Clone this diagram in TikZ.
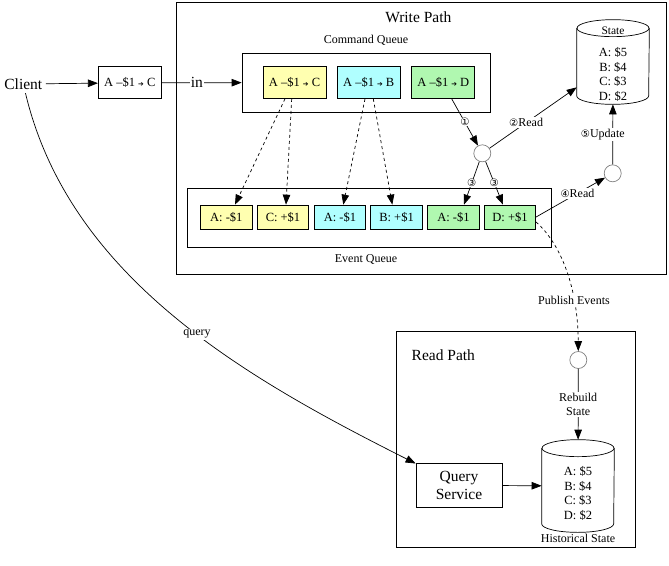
\documentclass[tikz,border=0pt]{standalone}
\usepackage{fontspec}
\setmainfont{Liberation Serif}
\newfontfamily\numfont[Scale=0.85]{DejaVu Sans}
\usetikzlibrary{arrows.meta}
\definecolor{ylwfill}{RGB}{255,255,176}
\definecolor{cynfill}{RGB}{176,255,255}
\definecolor{grnfill}{RGB}{176,248,176}
\newcommand{\smallarr}{{\numfont\fontsize{8}{8}\selectfont ➔}}

\begin{document}
\begin{tikzpicture}[x=1pt, y=-1pt, line width=0.7pt,
    arr/.style={-{Triangle[length=10pt,width=7.5pt]}},
    darr/.style={arr, dashed},
    txt/.style={font=\fontsize{12}{13}\selectfont},
    big/.style={font=\fontsize{15.5}{18}\selectfont},
    lbl/.style={txt, fill=white, inner sep=1pt},
    num/.style={fill=white, inner sep=0pt, font=\fontsize{12}{12}\numfont},
    cmdbox/.style={draw, minimum width=63, minimum height=32, font=\fontsize{12.5}{14}\selectfont},
    evbox/.style={draw, minimum width=51.5, minimum height=24, font=\fontsize{12.5}{14}\selectfont},
    dot/.style={circle, draw=gray, minimum size=17, inner sep=0pt},
    store/.style={align=center, font=\fontsize{12.5}{14.5}\selectfont}]
    \useasboundingbox (0,0) rectangle (669,565);

    % Write Path cluster
    \node[draw, minimum width=490, minimum height=271.3] (write) at (421.7,138.3) {};
    \node[big] (writelbl) at (418.3,17) {Write Path};

    % Command Queue
    \node[draw, minimum width=248, minimum height=59] (cmdq) at (366,82.5) {};
    \node[txt] (cmdqlbl) at (366,40) {Command Queue};
    \foreach \n/\x/\c/\t in {ca/294.5/ylwfill/C, cb/368.7/cynfill/B, cc/443.3/grnfill/D}
        \node[cmdbox, fill=\c] (\n) at (\x,82.5) {A –\$1 \smallarr{} \t};

    % Event Queue
    \node[draw, minimum width=364, minimum height=59] (evq) at (369,217.5) {};
    \node[txt] (evqlbl) at (366,259) {Event Queue};
    \foreach \n/\x/\c/\t in {e1/226.3/ylwfill/A: -\$1, e2/283/ylwfill/C: +\$1, e3/340/cynfill/A: -\$1,
        e4/396.5/cynfill/B: +\$1, e5/453.5/grnfill/A: -\$1, e6/510/grnfill/D: +\$1}
        \node[evbox, fill=\c] (\n) at (\x,217) {\t};

    % State store (cylinder)
    \node[minimum width=72, minimum height=84, inner sep=0pt] (state) at (613,62) {};
    \draw ([yshift=-8.5pt]state.north west) -- ([yshift=8.5pt]state.south west)
        arc[start angle=180, end angle=360, x radius=36pt, y radius=8.5pt] -- ([yshift=-8.5pt]state.north east);
    \draw ([yshift=-8.5pt]state.north) ellipse [x radius=36pt, y radius=8.5pt];
    \node[txt, font=\fontsize{11.5}{13}\selectfont] (statelbl) at (613,31) {State};
    \node[store] (statetxt) at (613,74.5) {A:~\$5\\B:~\$4\\C:~\$3\\D:~\$2};

    \node[dot] (mrg) at (482.3,153.3) {};
    \node[dot] (upd) at (612.7,173.3) {};

    % Read Path cluster
    \node[draw, minimum width=239.7, minimum height=216.7] (read) at (515.9,439.4) {};
    \node[big] (readlbl) at (443.3,355) {Read Path};
    \node[dot] (rdc) at (578.3,360) {};
    \node[minimum width=72, minimum height=92, inner sep=0pt] (hist) at (578,486) {};
    \draw ([yshift=-8.5pt]hist.north west) -- ([yshift=8.5pt]hist.south west)
        arc[start angle=180, end angle=360, x radius=36pt, y radius=8.5pt] -- ([yshift=-8.5pt]hist.north east);
    \draw ([yshift=-8.5pt]hist.north) ellipse [x radius=36pt, y radius=8.5pt];
    \node[store] (histtxt) at (578,493.5) {A:~\$5\\B:~\$4\\C:~\$3\\D:~\$2};
    \node[txt] (histlbl) at (578,538.5) {Historical State};
    \node[draw, minimum width=86, minimum height=44, big, align=center] (qsvc) at (459,485.3) {Query\\Service};

    % Client side
    \node[big] (client) at (23.3,84) {Client};
    \node[cmdbox] (incmd) at (129.8,82.8) {A –\$1 \smallarr{} C};

    % write path edges
    \draw[arr] (client) -- (incmd);
    \draw[arr] (incmd) -- node[lbl, big, pos=0.44] {in} (cmdq);
    \draw[darr] ([xshift=-9.5]ca.south) -- ([xshift=8.7]e1.north);
    \draw[darr] ([xshift=-2.8]ca.south) -- ([xshift=3]e2.north);
    \draw[darr] ([xshift=-3.7]cb.south) -- ([xshift=3.3]e3.north);
    \draw[darr] ([xshift=4.6]cb.south) -- ([xshift=-4.2]e4.north);
    \draw[arr] ([xshift=8.4]cc.south) -- node[num] {①} (mrg);
    \draw[arr] (mrg) -- node[lbl, pos=0.42] {{\numfont ②}Read} (state);
    \draw[arr] (mrg) -- node[num] {③} ([xshift=10.5]e5.north);
    \draw[arr] (mrg) -- node[num] {③} ([xshift=-7]e6.north);
    \draw[arr] (e6.east) -- node[lbl, pos=0.6] {{\numfont ④}Read} (upd);
    \draw[arr] (upd) -- node[lbl, xshift=-10] {{\numfont ⑤}Update} (state);

    % read path edges
    \draw[darr] ([yshift=-5]e6.east) .. controls (562,245) and (578,290) .. node[lbl, pos=0.7] {Publish Events} (rdc);
    \draw[arr] (rdc) -- node[lbl, align=center, font=\fontsize{12}{14.5}\selectfont] {Rebuild\\State} (hist);
    \draw[arr] (qsvc) -- (hist);
    \draw[arr] (client) .. controls (70,280) and (250,380) .. node[lbl, pos=0.55] {query} (qsvc);
\end{tikzpicture}
\end{document}
